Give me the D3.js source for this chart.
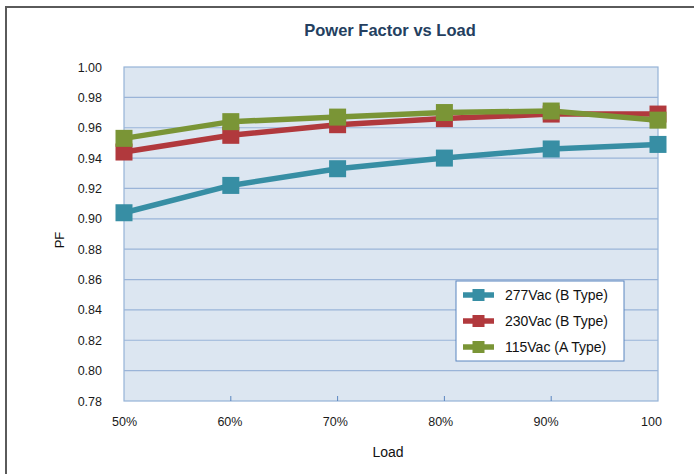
<!DOCTYPE html>
<html>
<head>
<meta charset="utf-8">
<script src="https://cdn.jsdelivr.net/npm/d3@7"></script>
<style>
  body { margin: 0; background: #fff; }
  text { font-family: "Liberation Sans", Arial, sans-serif; }
</style>
</head>
<body>
<div id="chart"></div>
<script>
// chart data
const loads = ["50%", "60%", "70%", "80%", "90%", "100"];
const pf277 = [0.904, 0.922, 0.933, 0.940, 0.946, 0.949];
const pf230 = [0.944, 0.955, 0.962, 0.966, 0.969, 0.969];
const pf115 = [0.953, 0.964, 0.967, 0.970, 0.971, 0.965];
const seriesNames = ["277Vac (B Type)", "230Vac (B Type)", "115Vac (A Type)"];
const yTicks = [0.78, 0.80, 0.82, 0.84, 0.86, 0.88, 0.90, 0.92, 0.94, 0.96, 0.98, 1.00];

const width = 694;
const height = 474;
const plot = {left: 124, right: 658, top: 67, bottom: 401};
const colors = ["#378ea4", "#b1393d", "#7a9536"];

const svg = d3.select("#chart")
  .append("svg")
  .attr("width", width)
  .attr("height", height);

// outer chart border (runs off the right/bottom edge)
svg.append("path")
  .attr("d", `M6,${height + 5} L6,7 L${width + 5},7`)
  .attr("fill", "none")
  .attr("stroke", "#5a5a5a")
  .attr("stroke-width", 2);

const x = d3.scalePoint()
  .domain(loads)
  .range([plot.left, plot.right]);

// labels sit slightly off the category points, like the original
const xLabel = d3.scalePoint()
  .domain(loads)
  .range([plot.left, plot.right - 7]);

const y = d3.scaleLinear()
  .domain([0.78, 1.00])
  .range([plot.bottom, plot.top]);

// plot background
svg.append("rect")
  .attr("x", plot.left)
  .attr("y", plot.top)
  .attr("width", plot.right - plot.left)
  .attr("height", plot.bottom - plot.top)
  .attr("fill", "#dce6f1")
  .attr("stroke", "#95b3d7")
  .attr("stroke-width", 1.2);

// gridlines
svg.append("g")
  .selectAll("line")
  .data(yTicks.slice(1, -1))
  .join("line")
    .attr("x1", plot.left)
    .attr("x2", plot.right)
    .attr("y1", d => y(d))
    .attr("y2", d => y(d))
    .attr("stroke", "#9ab4d8")
    .attr("stroke-width", 1.2);

// y axis labels
svg.append("g")
  .attr("transform", `translate(${plot.left}, 0)`)
  .call(d3.axisLeft(y).tickValues(yTicks).tickFormat(d3.format(".2f")).tickSize(0).tickPadding(22))
  .call(g => g.select(".domain").remove())
  .selectAll("text")
    .attr("font-size", "12.5px")
    .attr("fill", "#1a1a1a");

// small inside ticks on the category axis
svg.append("g")
  .selectAll("line")
  .data(loads.slice(1, -1))
  .join("line")
    .attr("x1", d => x(d))
    .attr("x2", d => x(d))
    .attr("y1", plot.bottom - 5)
    .attr("y2", plot.bottom)
    .attr("stroke", "#5b86c0")
    .attr("stroke-width", 1);

// x axis labels
svg.append("g")
  .attr("transform", `translate(0, ${plot.bottom})`)
  .call(d3.axisBottom(xLabel).tickSize(0).tickPadding(16))
  .call(g => g.select(".domain").remove())
  .selectAll("text")
    .attr("font-size", "12.5px")
    .attr("fill", "#1a1a1a");

// title and axis titles
svg.append("text")
  .attr("x", 390)
  .attr("y", 36)
  .attr("text-anchor", "middle")
  .attr("font-size", "16.5px")
  .attr("font-weight", "bold")
  .attr("fill", "#243f60")
  .text("Power Factor vs Load");

svg.append("text")
  .attr("x", 388)
  .attr("y", 457)
  .attr("text-anchor", "middle")
  .attr("font-size", "14px")
  .attr("fill", "#111")
  .text("Load");

svg.append("text")
  .attr("transform", "translate(64, 240) rotate(-90)")
  .attr("text-anchor", "middle")
  .attr("font-size", "13px")
  .attr("fill", "#111")
  .text("PF");

// series lines + square markers
const allSeries = [pf277, pf230, pf115];
const line = d3.line()
  .x((d, i) => x(loads[i]))
  .y(d => y(d));
const markerSize = 17;

allSeries.forEach((vals, s) => {
  const g = svg.append("g");
  g.append("path")
    .datum(vals)
    .attr("d", line)
    .attr("fill", "none")
    .attr("stroke", colors[s])
    .attr("stroke-width", 5.5);
  g.selectAll("rect")
    .data(vals)
    .join("rect")
      .attr("x", (d, i) => x(loads[i]) - markerSize / 2)
      .attr("y", d => y(d) - markerSize / 2)
      .attr("width", markerSize)
      .attr("height", markerSize)
      .attr("fill", colors[s]);
});

// legend
const legend = svg.append("g").attr("transform", "translate(456, 281)");
legend.append("rect")
  .attr("width", 168)
  .attr("height", 80)
  .attr("fill", "#fff")
  .attr("stroke", "#5b86c0")
  .attr("stroke-width", 1);

seriesNames.forEach((name, i) => {
  const row = legend.append("g").attr("transform", `translate(0, ${14 + i * 26})`);
  row.append("line")
    .attr("x1", 7).attr("x2", 38)
    .attr("y1", 0).attr("y2", 0)
    .attr("stroke", colors[i])
    .attr("stroke-width", 5.5);
  row.append("rect")
    .attr("x", 16.5).attr("y", -6)
    .attr("width", 12).attr("height", 12)
    .attr("fill", colors[i]);
  row.append("text")
    .attr("x", 49)
    .attr("y", 5)
    .attr("font-size", "14px")
    .attr("fill", "#111")
    .text(name);
});
</script>
</body>
</html>
